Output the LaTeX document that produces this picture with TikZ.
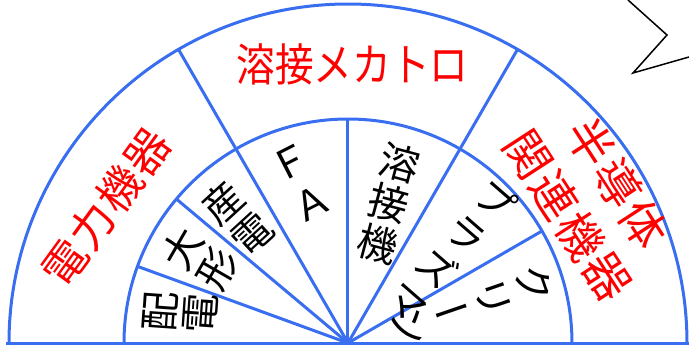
\documentclass[tikz,border=0pt]{standalone}
\usepackage{fontspec}
\newfontfamily\jp{Noto Sans CJK JP}
\newfontfamily\jpv[RawFeature=+vert]{Noto Sans CJK JP}
\definecolor{ringblue}{RGB}{58,110,240}
\begin{document}
\begin{tikzpicture}[x=1pt,y=1pt,
  ring/.style={draw=ringblue, line width=3pt},
  redtext/.style={text=red, inner sep=0pt, align=center},
  vtext/.style={text=black, inner sep=0pt, align=center},
  zig/.style={draw=black, line width=1.5pt}]
\useasboundingbox (-348,-6) rectangle (341,343);
\coordinate (O) at (0,0);
\coordinate (L) at (-342,0);
\coordinate (R) at (342,0);
\draw[ring] (L) -- (R);
\draw[ring] (339,0) arc[start angle=0,end angle=180,radius=339];
\draw[ring] (224,0) arc[start angle=0,end angle=180,radius=224];
\foreach \a in {60,120} \draw[ring] (O) -- (\a:339);
\foreach \a in {30,90,140,160} \draw[ring] (O) -- (\a:224);
% outer ring labels
\node[redtext, font=\jp\fontsize{45}{45}\selectfont] (weld) at (4.5,279) {\scalebox{0.86}[1]{溶接メカトロ}};
\node[redtext, rotate=54, font=\jp\fontsize{44}{44}\selectfont] (power) at (-242,135.5) {電\kern2pt 力\kern2pt 機\kern2pt 器};
\node[redtext, rotate=-57, font=\jp\fontsize{46}{59}\selectfont] (semi) at (244.7,143.6) {半\kern2.5pt 導\kern2.5pt 体\\関\kern2.5pt 連\kern2.5pt 機\kern2.5pt 器};
% inner ring labels (vertical writing)
\node[vtext, rotate=86, font=\jpv\fontsize{40}{41}\selectfont] (haiden) at (-167.6,30.5) {配\\電};
\node[vtext, rotate=60, font=\jpv\fontsize{40}{40}\selectfont] (ogata) at (-148,84) {大\\形};
\node[vtext, rotate=42.5, font=\jpv\fontsize{40}{42}\selectfont] (sanden) at (-110.5,125.2) {産\\電};
\node[vtext, rotate=27, font=\jpv\fontsize{40}{46}\selectfont] (fa) at (-46.8,160.2) {Ｆ\\Ａ};
\node[vtext, rotate=-15, font=\jpv\fontsize{40}{42}\selectfont] (yosetsu) at (41,139.7) {溶\\接\\機};
\node[vtext, rotate=-41, font=\jpv\fontsize{40}{44.7}\selectfont] (plasma) at (104,92.2) {プ\\ラ\\ズ\\マ};
\node[vtext, rotate=-71, font=\jpv\fontsize{40}{43.8}\selectfont] (clean) at (124.8,38.5) {ク\\リ\\ー\\ン};
% callout zigzag
\coordinate (z1) at (280,343);
\coordinate (z2) at (319,308);
\coordinate (z3) at (285,270);
\coordinate (z4) at (341,286);
\draw[zig] (z1) -- (z2) -- (z3) -- (z4);
\end{tikzpicture}
\end{document}
